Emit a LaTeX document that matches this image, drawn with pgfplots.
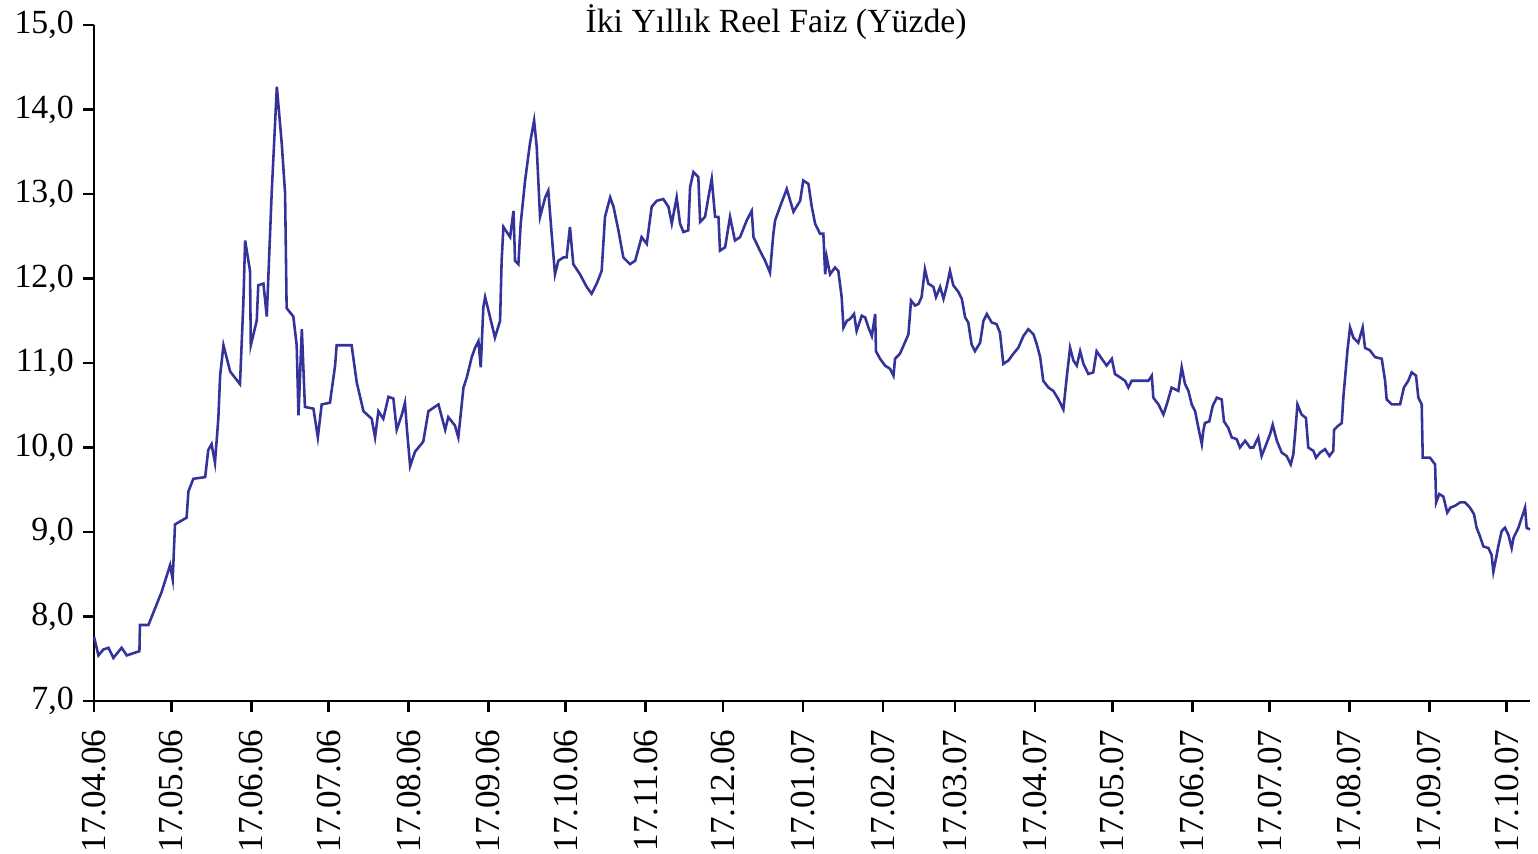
\documentclass[border=0pt]{standalone}
\usepackage{fontspec}
\setmainfont{Liberation Serif}
\usepackage{pgfplots}
\pgfplotsset{compat=1.18}
\definecolor{seri}{RGB}{51,51,153}

\begin{document}
\begin{tikzpicture}
\begin{axis}[
  scale only axis,
  width=531pt, height=250pt,
  xmin=0, xmax=557, ymin=7, ymax=15,
  axis x line*=bottom, axis y line*=left,
  axis line style={-, line width=1pt, black},
  tick align=outside,
  major tick length=4pt,
  tick style={line width=1pt, black},
  xtick={0,30,61,91,122,153,183,214,244,275,306,334,365,395,426,456,487,518,548},
  xticklabels={17.04.06,17.05.06,17.06.06,17.07.06,17.08.06,17.09.06,17.10.06,17.11.06,17.12.06,
    17.01.07,17.02.07,17.03.07,17.04.07,17.05.07,17.06.07,17.07.07,17.08.07,17.09.07,17.10.07},
  xticklabel style={rotate=90, anchor=east, font=\fontsize{13}{14}\selectfont},
  xticklabel shift=3pt,
  ytick={7,8,...,15},
  yticklabels={{7,0},{8,0},{9,0},{10,0},{11,0},{12,0},{13,0},{14,0},{15,0}},
  yticklabel style={font=\fontsize{12.5}{13}\selectfont},
  clip=false,
]
% iki yillik reel faiz, gun (17.04.06'dan itibaren) / yuzde
\addplot[color=seri, line width=0.95pt] coordinates {
(0,7.76)(1.7,7.54)(3.6,7.61)(5.6,7.63)(7.5,7.51)(10.7,7.63)(12.7,7.54)(17.6,7.59)(17.8,7.90)(21.1,7.90)
(23.7,8.10)(26.2,8.29)(29.5,8.61)(30.5,8.44)(31.4,9.09)(35.9,9.17)(36.6,9.48)(38.5,9.63)(43.1,9.65)(44.3,9.97)
(45.6,10.04)(46.9,9.82)(48.2,10.34)(48.9,10.85)(50.2,11.21)(52.8,10.90)(56.6,10.75)(57.9,11.70)(58.6,12.45)(60.5,12.09)
(60.8,11.21)(63.1,11.50)(63.7,11.92)(65.7,11.94)(67.0,11.55)(68.9,13.01)(70.9,14.27)(72.8,13.60)(74.1,13.01)(74.7,11.65)
(77.3,11.55)(78.6,11.21)(79.3,10.38)(80.6,11.40)(81.8,10.48)(85.1,10.46)(86.8,10.12)(88.3,10.51)(91.5,10.53)(93.5,10.97)
(94.1,11.21)(99.9,11.21)(101.9,10.77)(104.5,10.43)(107.7,10.34)(109.0,10.12)(110.3,10.43)(112.2,10.34)(114.2,10.60)(116.1,10.58)
(117.4,10.21)(119.3,10.38)(120.6,10.53)(121.3,10.24)(122.6,9.78)(124.5,9.95)(127.7,10.07)(129.7,10.43)(133.6,10.51)(136.2,10.21)
(137.4,10.36)(140.0,10.26)(141.3,10.12)
(143.3,10.71)(144.6,10.83)(146.5,11.07)(147.8,11.18)(149.1,11.26)(150.0,10.95)(151.0,11.66)(151.7,11.78)(153.0,11.62)(154.9,11.38)
(155.5,11.30)(157.5,11.50)(158.1,12.21)(158.8,12.61)(161.4,12.49)(162.7,12.80)(163.3,12.21)(164.6,12.17)(165.5,12.65)(167.2,13.16)
(169.1,13.60)(170.7,13.87)(171.7,13.56)(173.0,12.73)(175.0,12.96)(176.2,13.04)(177.5,12.53)(178.8,12.05)(180.1,12.21)(182.1,12.25)
(183.3,12.25)(184.6,12.61)(185.9,12.17)(188.5,12.05)(191.1,11.90)(193.0,11.82)(195.0,11.94)(196.9,12.09)(198.2,12.73)(200.2,12.96)
(201.5,12.85)(203.4,12.57)(205.3,12.25)(207.9,12.17)(209.9,12.21)(212.4,12.49)(214.4,12.41)(216.3,12.85)(218.3,12.92)(220.8,12.94)
(222.8,12.85)(224.1,12.65)(226.0,12.96)(227.3,12.65)(228.6,12.55)(230.5,12.57)(231.2,13.08)(232.5,13.26)(234.4,13.20)(235.1,12.67)
(237.0,12.73)(238.3,12.96)(239.6,13.18)(240.9,12.73)(242.2,12.73)(242.8,12.33)(244.8,12.37)(246.7,12.73)(248.6,12.45)(250.6,12.49)
(253.2,12.69)(255.1,12.80)(255.8,12.49)(258.3,12.33)(260.3,12.21)(262.2,12.07)(263.5,12.53)(264.2,12.69)(266.1,12.85)(268.7,13.06)
(271.3,12.79)(273.9,12.92)(275.1,13.16)(277.1,13.12)(278.4,12.85)(279.7,12.65)(281.6,12.53)(282.9,12.53)(283.6,12.05)(284.2,12.25)
(285.5,12.05)(287.4,12.13)(288.7,12.09)
(290.0,11.78)(290.7,11.42)(292.0,11.50)(293.2,11.52)(294.8,11.58)(295.8,11.38)(297.8,11.56)(299.1,11.54)(300.4,11.42)(301.7,11.32)
(303.0,11.58)(303.3,11.14)(304.9,11.05)(306.8,10.97)(308.8,10.93)(310.1,10.85)(310.7,11.05)(312.6,11.11)(314.2,11.22)(315.9,11.34)
(316.9,11.74)(318.5,11.68)(319.8,11.70)(321.0,11.78)(322.3,12.11)(323.6,11.94)(325.6,11.90)(326.6,11.78)(328.2,11.90)(329.5,11.76)
(330.7,11.90)(332.0,12.09)(333.3,11.92)(335.3,11.84)(336.6,11.76)(337.9,11.54)(339.1,11.48)(340.4,11.22)(341.7,11.14)(343.7,11.24)
(345.0,11.50)(346.3,11.58)(348.2,11.48)(350.1,11.46)(351.4,11.36)(352.7,10.99)(354.7,11.03)(356.6,11.11)(358.5,11.18)(360.5,11.32)
(362.4,11.40)(364.4,11.34)(365.7,11.22)(367.0,11.07)(368.2,10.79)(370.2,10.71)(372.1,10.67)(374.1,10.57)(376.0,10.45)(377.3,10.83)
(378.6,11.18)(379.9,11.03)(381.2,10.97)(382.5,11.14)(383.8,10.99)(385.7,10.87)(387.6,10.89)(388.9,11.14)(390.9,11.05)(392.8,10.97)
(394.8,11.05)(396.0,10.87)(398.0,10.83)(399.9,10.79)(401.2,10.71)(402.5,10.79)(409.0,10.79)(410.3,10.85)(410.9,10.59)(412.9,10.51)
(414.8,10.39)(416.1,10.51)(418.0,10.71)(419.3,10.69)(420.6,10.67)(421.9,10.95)(423.2,10.75)(424.5,10.67)(425.8,10.51)(427.1,10.43)
(428.4,10.23)(429.7,10.04)
(430.3,10.20)(430.9,10.29)(432.6,10.31)(433.9,10.49)(435.5,10.59)(437.4,10.57)(438.3,10.31)(440.0,10.23)(441.3,10.12)(443.2,10.10)
(444.5,10.00)(446.5,10.08)(448.4,10.00)(449.7,10.00)(451.6,10.12)(452.9,9.90)(454.2,10.00)(456.2,10.16)(457.2,10.27)(458.8,10.08)
(460.7,9.94)(462.6,9.90)(464.2,9.80)(465.2,9.92)(465.9,10.16)(466.8,10.51)(468.4,10.39)(470.1,10.35)(471.0,10.00)(473.0,9.96)
(474.0,9.88)(475.6,9.94)(477.5,9.98)(479.2,9.90)(480.7,9.96)(481.0,10.21)(482.3,10.25)(484.0,10.29)(484.6,10.59)(486.2,11.15)
(487.2,11.42)(488.5,11.30)(490.4,11.24)(492.1,11.42)(493.0,11.18)(494.9,11.15)(496.9,11.07)(499.5,11.05)(500.8,10.79)(501.4,10.57)
(503.4,10.51)(506.6,10.51)(508.1,10.71)(509.8,10.79)(511.1,10.89)(512.8,10.85)(513.7,10.59)(515.0,10.51)(515.4,9.88)(518.2,9.88)
(520.2,9.80)(520.6,9.35)(521.8,9.45)(523.4,9.42)(524.9,9.23)(526.2,9.29)(527.9,9.31)(529.9,9.35)(531.8,9.35)(533.7,9.29)
(535.3,9.21)(536.3,9.05)(537.6,8.95)(538.9,8.83)(540.9,8.81)(542.1,8.73)(542.8,8.53)(544.1,8.73)(544.7,8.83)(546.0,9.01)
(547.3,9.05)(548.6,8.97)(549.9,8.81)(550.6,8.93)(552.5,9.05)(553.8,9.17)(555.1,9.29)(555.7,9.05)(557.0,9.03)
};
\node[font=\fontsize{12.5}{13}\selectfont] at (rel axis cs:0.475,1.004) {İki Yıllık Reel Faiz (Yüzde)};
\coordinate (bl) at (rel axis cs:-0.0655,-0.225);
\coordinate (tr) at (rel axis cs:1.0056,1.037);
\end{axis}
\pgfresetboundingbox
\path (bl) rectangle (tr);
\end{tikzpicture}
\end{document}
